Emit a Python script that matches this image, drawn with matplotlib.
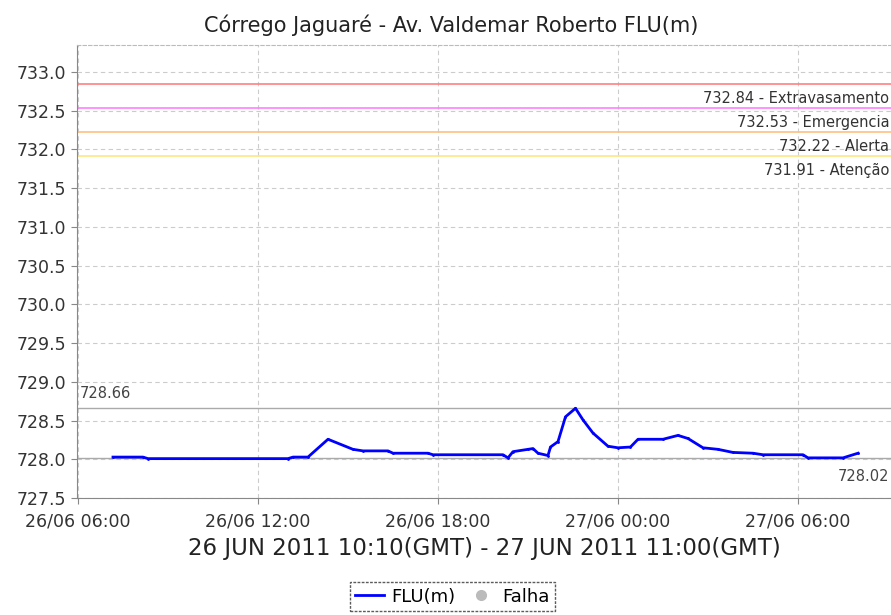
import pandas as pd
import matplotlib
matplotlib.use('Agg')
import matplotlib.pyplot as plt
import matplotlib.dates as mdates
from matplotlib.lines import Line2D

# leituras do FLU (hora local)
times = ['2011-06-26 07:10', '2011-06-26 08:10', '2011-06-26 08:20', '2011-06-26 13:00',
         '2011-06-26 13:10', '2011-06-26 13:40', '2011-06-26 14:20', '2011-06-26 15:10',
         '2011-06-26 15:30', '2011-06-26 16:20', '2011-06-26 16:30', '2011-06-26 17:40',
         '2011-06-26 17:50', '2011-06-26 20:10', '2011-06-26 20:20', '2011-06-26 20:30',
         '2011-06-26 21:00', '2011-06-26 21:10', '2011-06-26 21:20', '2011-06-26 21:40',
         '2011-06-26 21:45', '2011-06-26 22:00', '2011-06-26 22:15', '2011-06-26 22:35',
         '2011-06-26 22:50', '2011-06-26 23:10', '2011-06-26 23:40', '2011-06-27 00:00',
         '2011-06-27 00:25', '2011-06-27 00:40', '2011-06-27 01:30', '2011-06-27 02:00',
         '2011-06-27 02:20', '2011-06-27 02:50', '2011-06-27 03:20', '2011-06-27 03:50',
         '2011-06-27 04:30', '2011-06-27 04:50', '2011-06-27 06:10', '2011-06-27 06:20',
         '2011-06-27 07:30', '2011-06-27 08:00']
levels = [728.03, 728.03, 728.01, 728.01, 728.03, 728.03, 728.26, 728.13,
          728.11, 728.11, 728.08, 728.08, 728.06, 728.06, 728.02, 728.10,
          728.13, 728.14, 728.08, 728.05, 728.16, 728.23, 728.55, 728.66,
          728.51, 728.34, 728.17, 728.15, 728.16, 728.26, 728.26, 728.31,
          728.27, 728.15, 728.13, 728.09, 728.08, 728.06, 728.06, 728.02,
          728.02, 728.08]

# cotas de referencia
limit_vals = [732.84, 732.53, 732.22, 731.91]
limit_names = ['Extravasamento', 'Emergencia', 'Alerta', 'Atenção']
limit_colors = ['#FF8080', '#FF80FF', '#FFC080', '#FFE680']
max_val = 728.66
min_val = 728.02

t = pd.to_datetime(times)

fig = plt.figure(figsize=(8.91, 6.15), dpi=100)
ax = fig.add_axes([0.0864, 0.19, 0.9136, 0.737])

ax.set_ylim(727.5, 733.35)
ax.set_xlim(pd.Timestamp('2011-06-26 05:58'), pd.Timestamp('2011-06-27 09:06'))
ax.set_yticks([727.5 + 0.5 * i for i in range(12)])
ax.yaxis.set_major_formatter(matplotlib.ticker.FormatStrFormatter('%.1f'))
ax.xaxis.set_major_locator(mdates.HourLocator(byhour=[0, 6, 12, 18]))
ax.xaxis.set_major_formatter(mdates.DateFormatter('%d/%m %H:%M'))

ax.grid(True, color='#CCCCCC', ls=(0, (4, 3)), lw=0.8)
ax.set_axisbelow(True)
ax.spines['right'].set_visible(False)
ax.spines['top'].set_color('#BBBBBB')
ax.spines['top'].set_linestyle((0, (3, 2)))
ax.spines['left'].set_color('#888888')
ax.spines['bottom'].set_color('#888888')
ax.tick_params(axis='both', labelsize=12.5, colors='#888888', labelcolor='#333333', length=4)
ax.tick_params(axis='x', pad=6)

for v, n, c in zip(limit_vals, limit_names, limit_colors):
    ax.axhline(v, color=c, lw=1.2)
    ax.text(0.998, v - 0.09, '%.2f - %s' % (v, n), transform=ax.get_yaxis_transform(),
            ha='right', va='top', fontsize=10.5, color='#333333')

ax.axhline(max_val, color='#AAAAAA', lw=1)
ax.axhline(min_val, color='#AAAAAA', lw=1)
ax.text(0.004, max_val + 0.1, '%.2f' % max_val, transform=ax.get_yaxis_transform(),
        ha='left', va='bottom', fontsize=10.5, color='#444444')
ax.text(0.998, min_val - 0.14, '%.2f' % min_val, transform=ax.get_yaxis_transform(),
        ha='right', va='top', fontsize=10.5, color='#444444')

ax.plot(t, levels, color='#0000FF', lw=2, marker='.', ms=2)

ax.set_title('Córrego Jaguaré - Av. Valdemar Roberto FLU(m)', fontsize=15, color='#222222',
             pad=9, x=0.46)
ax.set_xlabel('26 JUN 2011 10:10(GMT) - 27 JUN 2011 11:00(GMT)', fontsize=16.5, color='#222222', labelpad=5)

handles = [Line2D([], [], color='#0000FF', lw=2),
           Line2D([], [], color='#BBBBBB', marker='o', ls='', ms=7)]
leg = fig.legend(handles, ['FLU(m)', 'Falha'], loc='center', bbox_to_anchor=(0.508, 0.03),
                 ncol=2, fontsize=13, frameon=True, fancybox=False, handlelength=1.6,
                 handletextpad=0.4, columnspacing=0.6, borderpad=0.3)
leg.get_frame().set_edgecolor('#333333')
leg.get_frame().set_linestyle((0, (2, 1)))
leg.get_frame().set_linewidth(1)

fig.savefig('out.png', dpi=100)
